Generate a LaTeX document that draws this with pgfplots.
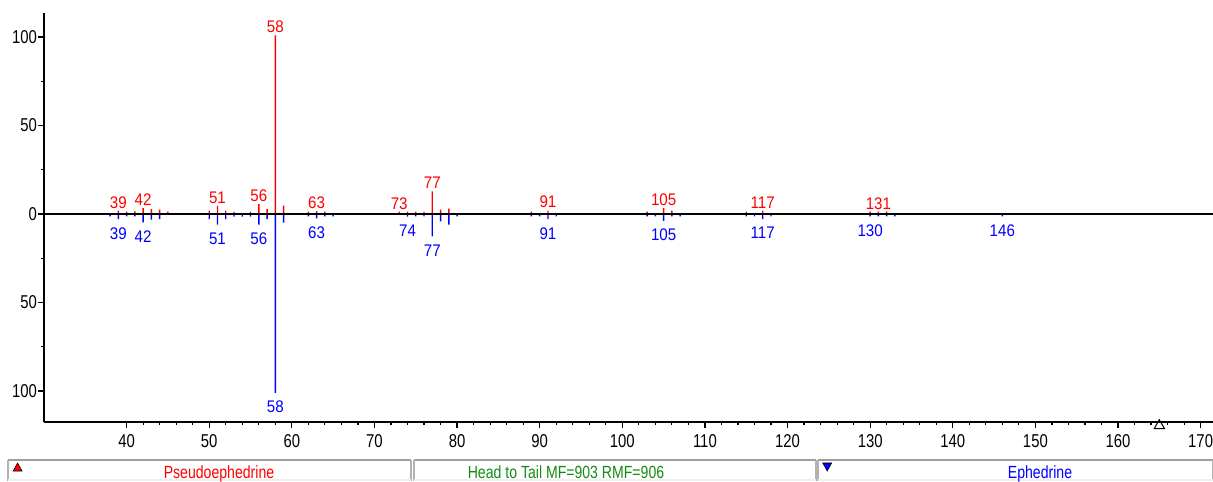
\documentclass[border=0pt]{standalone}
\usepackage{fontspec}
\setmainfont{Liberation Sans}
\newfontfamily\tickfont{Liberation Sans}[FakeStretch=0.8]
\newfontfamily\labfont{Liberation Sans}[FakeStretch=0.9]
\usepackage{pgfplots}
\pgfplotsset{compat=1.18}
\definecolor{specred}{RGB}{255,0,0}
\definecolor{specblue}{RGB}{0,0,255}
\definecolor{mfgreen}{RGB}{20,140,20}

\begin{document}
\begin{tikzpicture}
\path[use as bounding box] (0,0) rectangle (606.5pt,240.5pt);
\begin{axis}[
  at={(22pt,29.5pt)}, anchor=south west,
  scale only axis, width=584.5pt, height=204.5pt,
  xmin=30, xmax=171.5, ymin=-117.5, ymax=113.6,
  axis x line*=bottom, axis y line*=left,
  axis line style={line width=0.8pt},
  xtick={40,50,...,170}, minor x tick num=4,
  ytick={-100,-50,0,50,100}, yticklabels={100,50,0,50,100},
  minor ytick={-75,-25,25,75},
  tick align=outside,
  major tick length=2.8pt, minor tick length=1.5pt,
  tick style={black, line width=0.6pt},
  /pgf/number format/assume math mode=true,
  xticklabel style={font=\tickfont\fontsize{9.3}{10}\selectfont},
  yticklabel style={font=\tickfont\fontsize{9.3}{10}\selectfont, inner sep=0.5pt},
  clip=false,
]
% Pseudoephedrine (top, red)
\addplot[ybar, bar width=0.7pt, bar shift=0pt, fill=specred, draw=none] coordinates {
  (39,1.9) (40,1.3) (41,1.5) (42,3.4) (43,2.8) (44,2.5) (45,1.3)
  (50,1.9) (51,4.7) (52,1.9) (53,1.3) (55,1.3) (56,5.8) (57,2.8) (58,101) (59,4.8)
  (62,1.3) (63,1.6) (64,1.3)
  (73,1.3) (74,1.3) (75,1.3) (76,1.3) (77,12.8) (78,2.5) (79,3.0)
  (89,1.3) (91,2.0)
  (103,1.3) (105,3.4) (106,2.0)
  (115,1.3) (117,2.0)
  (130,1.3) (131,1.4) (132,1.4)
};
% Ephedrine (bottom, blue)
\addplot[ybar, bar width=0.7pt, bar shift=0pt, fill=specblue, draw=none] coordinates {
  (38,-1.3) (39,-2.8) (40,-1.3) (41,-1.3) (42,-4.7) (43,-3.2) (44,-2.8)
  (50,-2.8) (51,-6.0) (52,-2.8) (53,-1.4) (54,-1.4) (55,-1.4) (56,-6.0) (57,-2.8) (58,-101) (59,-4.8)
  (62,-1.3) (63,-2.5) (64,-1.3) (65,-1.3)
  (74,-1.5) (75,-1.3) (76,-1.3) (77,-12.6) (78,-4.1) (79,-6.0) (80,-1.3)
  (89,-1.3) (90,-1.3) (91,-2.8) (92,-1.3)
  (103,-1.3) (104,-1.3) (105,-3.8) (106,-1.3) (107,-1.3)
  (115,-1.3) (116,-1.3) (117,-2.8) (118,-1.3)
  (130,-1.3) (131,-1.3) (132,-1.3) (133,-1.3)
  (146,-1.3)
};
% baseline
\addplot[black, line width=0.9pt, mark=none] coordinates {(30,0) (171.5,0)};
% peak labels
\addplot[draw=none, mark=none, nodes near coords, point meta=explicit symbolic,
  nodes near coords style={text=specred, anchor=south, inner sep=1pt,
    font=\labfont\fontsize{8.4}{9}\selectfont}] coordinates {
  (39,1.9)[39] (42,3.4)[42] (51,4.7)[51] (56,5.8)[56] (58,101)[58] (63,1.6)[63]
  (73,1.3)[73] (77,12.8)[77] (91,2.0)[91] (105,3.4)[105] (117,2.0)[117] (131,1.4)[131]
};
\addplot[draw=none, mark=none, nodes near coords, point meta=explicit symbolic,
  nodes near coords style={text=specblue, anchor=north, inner sep=4pt,
    font=\labfont\fontsize{8.4}{9}\selectfont}] coordinates {
  (39,-2.8)[39] (42,-4.7)[42] (51,-6.0)[51] (56,-6.0)[56] (58,-101)[58] (63,-2.5)[63]
  (74,-1.5)[74] (77,-12.6)[77] (91,-2.8)[91] (105,-3.8)[105] (117,-2.8)[117]
  (130,-1.3)[130] (146,-1.3)[146]
};
% open marker on the mass axis
\addplot[only marks, mark=triangle, mark size=3pt, black, line width=0.5pt] coordinates {(165,-119.6)};
\end{axis}
% status bar
\foreach \a/\b in {4/205.5, 207/408, 409/606.5}{
  \fill[white] (\a pt,0) rectangle (\b pt,10.5pt);
  \draw[gray!75, line width=1.4pt] (\a pt,10.5pt) -- (\b pt,10.5pt);
  \draw[gray!60, line width=0.8pt] (\a pt,0) -- (\a pt,10.5pt) (\b pt,0) -- (\b pt,10.5pt);
  \fill[gray!12] (\a pt,0) rectangle (\b pt,0.8pt);
}
\node[anchor=base, inner sep=0, text=specred, font=\tickfont\fontsize{8.8}{9}\selectfont] at (109.5pt,1.5pt) {Pseudoephedrine};
\node[anchor=base, inner sep=0, text=mfgreen, font=\tickfont\fontsize{8.8}{9}\selectfont] at (283pt,1.5pt) {Head to Tail MF=903 RMF=906};
\node[anchor=base, inner sep=0, text=specblue, font=\tickfont\fontsize{8.8}{9}\selectfont] at (520pt,1.5pt) {Ephedrine};
\filldraw[fill=specred, draw=black, line width=0.3pt] (6.6pt,5pt) -- (11pt,5pt) -- (8.8pt,9pt) -- cycle;
\filldraw[fill=specblue, draw=black, line width=0.3pt] (411.4pt,9pt) -- (415.8pt,9pt) -- (413.6pt,5pt) -- cycle;
\end{tikzpicture}
\end{document}
